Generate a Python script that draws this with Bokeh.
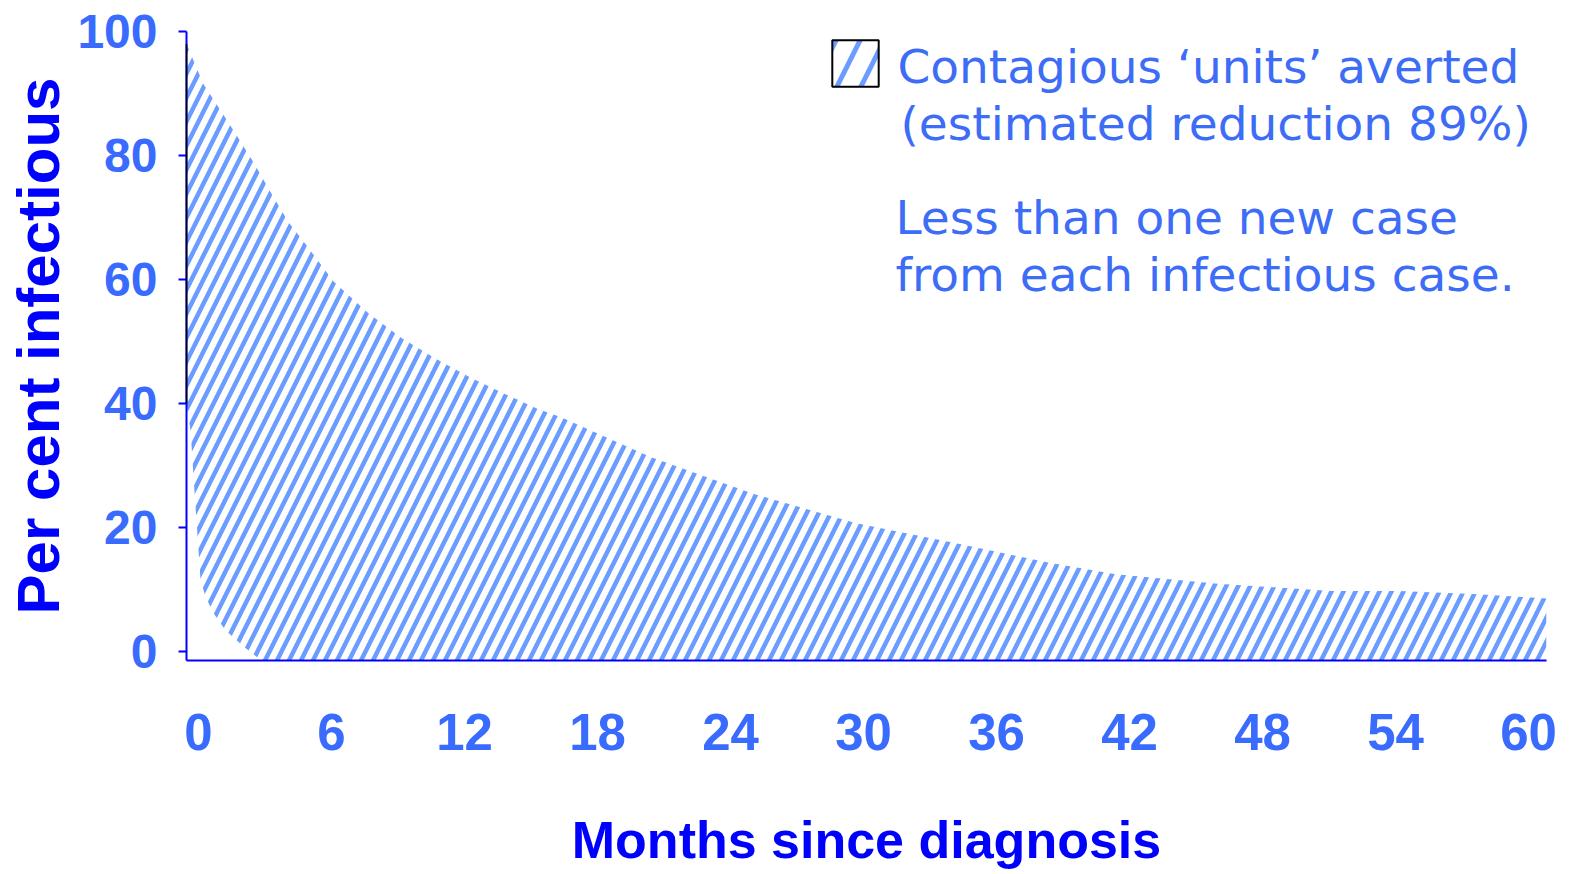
from bokeh.plotting import figure
from bokeh.models import LinearAxis, Range1d, FixedTicker, Label, Legend, LegendItem
from bokeh.embed import file_html
from bokeh.resources import INLINE

# ---- data ----
months_upper = [0, 0.75, 1.5, 2.25, 3, 3.75, 4.5, 5.25, 6.5, 8, 9.5, 11, 12.5, 14,
                15.5, 16.5, 20.5, 25, 29.5, 34, 38, 41, 45.5, 50.5, 53.5, 57, 60]
pct_upper = [98, 91.5, 87.3, 83, 78.6, 73.8, 69.2, 65.7, 59.6, 54.6, 50.5, 47.2, 44.2, 41.6,
             39.1, 37.8, 31.3, 25.4, 20.7, 17.4, 14.3, 12.4, 10.9, 9.7, 9.7, 9.2, 8.5]
months_lower = [0, 0.18, 0.32, 0.47, 0.62, 0.84, 1.2, 1.72, 2.53, 3.3, 60]
pct_lower = [40, 35.6, 27.6, 19.5, 11.5, 8.8, 6.1, 3.4, 0.7, -1.5, -1.5]

x_ticks = [0, 6, 12, 18, 24, 30, 36, 42, 48, 54, 60]
y_ticks = [0, 20, 40, 60, 80, 100]

legend_lines = ["Contagious \u2018units\u2019 averted", "(estimated reduction 89%)"]
note_lines = ["Less than one new case", "from each infectious case."]
x_title = "Months since diagnosis"
y_title = "Per cent infectious"

TICK_BLUE = "#3a6bff"
TITLE_BLUE = "#0000ff"
HATCH_BLUE = "#6b9cff"
TEXT_BLUE = "#3d6cf7"
BOLD_FONT = "Liberation Sans"

p = figure(width=1568, height=872,
           x_range=Range1d(0, 60), y_range=Range1d(-1.5, 100),
           output_backend="svg", toolbar_location=None,
           x_axis_location=None, y_axis_location=None,
           min_border_left=186, min_border_right=22,
           min_border_top=31, min_border_bottom=212)
p.xgrid.visible = False
p.ygrid.visible = False
p.outline_line_color = None
p.background_fill_color = "white"
p.border_fill_color = "white"

# tick-label axis (its labels sit slightly offset from the data scale in the reference)
p.extra_x_ranges = {"lbl": Range1d(-0.541, 60.81)}
xaxis = LinearAxis(x_range_name="lbl", ticker=FixedTicker(ticks=x_ticks))
xaxis.axis_line_color = TITLE_BLUE
xaxis.axis_line_width = 2
xaxis.major_tick_line_color = None
xaxis.minor_tick_line_color = None
xaxis.major_tick_out = 0
xaxis.major_tick_in = 0
xaxis.major_label_standoff = 53
xaxis.major_label_text_font = BOLD_FONT
xaxis.major_label_text_font_style = "bold"
xaxis.major_label_text_font_size = "51px"
xaxis.major_label_text_color = TICK_BLUE
xaxis.axis_label = x_title
xaxis.axis_label_standoff = 58
xaxis.axis_label_text_font = BOLD_FONT
xaxis.axis_label_text_font_style = "bold"
xaxis.axis_label_text_font_size = "52px"
xaxis.axis_label_text_color = TITLE_BLUE
p.add_layout(xaxis, "below")

yaxis = LinearAxis(ticker=FixedTicker(ticks=y_ticks))
yaxis.axis_line_color = TITLE_BLUE
yaxis.axis_line_width = 2
yaxis.major_tick_line_color = TITLE_BLUE
yaxis.major_tick_line_width = 2
yaxis.major_tick_out = 8
yaxis.major_tick_in = 0
yaxis.minor_tick_line_color = None
yaxis.major_label_standoff = 21
yaxis.major_label_text_font = BOLD_FONT
yaxis.major_label_text_font_style = "bold"
yaxis.major_label_text_font_size = "48px"
yaxis.major_label_text_color = TICK_BLUE
yaxis.axis_label = y_title
yaxis.axis_label_standoff = 2
yaxis.axis_label_text_font = BOLD_FONT
yaxis.axis_label_text_font_style = "bold"
yaxis.axis_label_text_font_size = "60px"
yaxis.axis_label_text_color = TITLE_BLUE
p.add_layout(yaxis, "left")

# hatched area between the two curves
xs = months_upper + months_lower[::-1]
ys = pct_upper + pct_lower[::-1]
p.patch(xs, ys, fill_color=None, line_color=None,
        hatch_pattern="/", hatch_color=HATCH_BLUE, hatch_scale=24, hatch_weight=4.5)

# black left edge of the area
p.line([months_upper[0], months_lower[0]], [pct_upper[0], pct_lower[0]],
       line_color="black", line_width=1.6, level="overlay")

# legend swatch: same area, drawn only in the legend (black border, wider hatch)
swatch = p.patch(xs, ys, fill_color=None, line_color="black", line_width=2,
                 hatch_pattern="/", hatch_color=HATCH_BLUE, hatch_scale=48,
                 hatch_weight=5, visible=False)
leg = Legend(items=[LegendItem(label=" ", renderers=[swatch])],
             location=(640, 568), padding=0, margin=0, spacing=0,
             glyph_width=58, glyph_height=58, label_standoff=0, label_height=58,
             label_text_font_size="2px", inactive_fill_alpha=0,
             border_line_color=None, background_fill_alpha=0)
p.add_layout(leg)

# texts (screen units, relative to the frame's lower-left)
txt_kw = dict(x_units="screen", y_units="screen", text_font="DejaVu Sans",
              text_font_size="47px", text_color=TEXT_BLUE,
              text_baseline="alphabetic", text_align="left")
for line, xo, yb in zip(legend_lines + note_lines, [711, 714, 709, 709], [594, 537, 443, 386]):
    p.add_layout(Label(x=xo, y=yb, text=line, **txt_kw))

open("out.html", "w").write(file_html(p, INLINE))
